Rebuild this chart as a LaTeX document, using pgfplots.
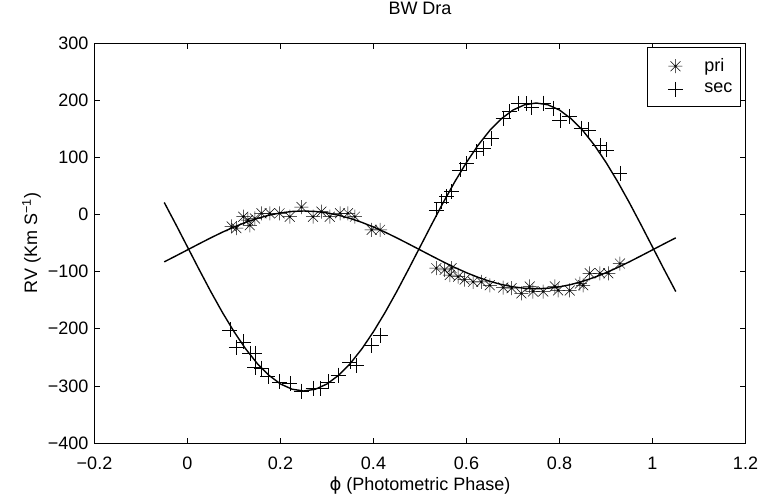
\documentclass[border=0pt]{standalone}
\usepackage{fontspec}
\setmainfont{Liberation Sans}
\newfontfamily\dejavu{DejaVu Sans}
\usepackage{pgfplots}
\pgfplotsset{compat=1.18}
\pgfdeclareplotmark{mstar}{%
 \pgfpathmoveto{\pgfqpoint{-\pgfplotmarksize}{0pt}}\pgfpathlineto{\pgfqpoint{\pgfplotmarksize}{0pt}}%
 \pgfpathmoveto{\pgfqpoint{0pt}{-\pgfplotmarksize}}\pgfpathlineto{\pgfqpoint{0pt}{\pgfplotmarksize}}%
 \pgfpathmoveto{\pgfqpoint{-.707\pgfplotmarksize}{-.707\pgfplotmarksize}}\pgfpathlineto{\pgfqpoint{.707\pgfplotmarksize}{.707\pgfplotmarksize}}%
 \pgfpathmoveto{\pgfqpoint{-.707\pgfplotmarksize}{.707\pgfplotmarksize}}\pgfpathlineto{\pgfqpoint{.707\pgfplotmarksize}{-.707\pgfplotmarksize}}%
 \pgfusepathqstroke}
\begin{document}
\fontsize{18bp}{21bp}\selectfont
\begin{tikzpicture}
\path[use as bounding box] (-94.5bp,-53bp) rectangle (668.5bp,443bp);
\begin{axis}[
  at={(0,0)}, anchor=south west,
  scale only axis, width=651bp, height=400bp,
  xmin=-0.2, xmax=1.2, ymin=-400, ymax=300,
  xtick={-0.2,0,0.2,0.4,0.6,0.8,1,1.2},
  xticklabels={−0.2,0,0.2,0.4,0.6,0.8,1,1.2},
  ytick={-400,-300,-200,-100,0,100,200,300},
  yticklabels={−400,−300,−200,−100,0,100,200,300},
  tick align=inside, major tick length=5.5bp,
  axis line style={line width=0.9bp},
  every tick/.style={line width=0.7bp, black},
  tick label style={font=\fontsize{18bp}{21bp}\selectfont},
  xticklabel style={anchor=base, yshift=-26bp},
  yticklabel style={anchor=east, inner sep=0pt, xshift=-6bp},
  label style={font=\fontsize{18bp}{21bp}\selectfont},
  title style={font=\fontsize{18bp}{21bp}\selectfont, at={(axis description cs:0.5,1)}, anchor=base, yshift=23bp},
  title={BW Dra},
  xlabel={{\dejavu ϕ} (Photometric Phase)},
  ylabel={RV (Km S\textsuperscript{−1})},
  xlabel style={at={(axis description cs:0.5,0)}, anchor=base, yshift=-47bp},
  ylabel style={at={(axis description cs:-0.0883,0.5)}, anchor=base},
  legend style={at={(0.9928,0.99)}, anchor=north east, draw=black, line width=0.7bp,
    font=\fontsize{18bp}{21bp}\selectfont, row sep=5bp, inner xsep=6bp, inner ysep=9bp,
    nodes={inner sep=2bp}},
  legend image code/.code={\path[draw=none,fill=none] (-3bp,-8bp) rectangle (46bp,8bp); \draw[mark repeat=2,mark phase=2,#1] plot coordinates {(0bp,0bp) (19bp,0bp) (38bp,0bp)};},
  legend cell align=left,
]
\addplot[only marks, mark=mstar, mark size=7bp, line width=0.5bp, black] coordinates {
(0.095,-21) (0.105,-24) (0.12,-4) (0.13,-10) (0.134,-19) (0.145,-7) (0.159,2)
(0.177,2) (0.198,2) (0.22,-4) (0.245,13) (0.27,-4) (0.288,5) (0.306,-4)
(0.328,2) (0.345,2) (0.36,-4) (0.396,-27) (0.414,-27)
(0.535,-94) (0.553,-97) (0.568,-94) (0.564,-106) (0.582,-109) (0.596,-114)
(0.614,-118) (0.632,-118) (0.65,-124) (0.679,-128) (0.697,-129) (0.718,-138)
(0.736,-126) (0.743,-135) (0.765,-135) (0.79,-126) (0.797,-133) (0.822,-133)
(0.844,-121) (0.851,-124) (0.865,-103) (0.887,-103) (0.905,-103) (0.93,-86)
};
\addlegendentry{pri}
\addplot[only marks, mark=+, mark size=7.5bp, line width=0.5bp, black] coordinates {
(0.091,-202) (0.105,-232) (0.12,-223) (0.134,-243) (0.145,-243) (0.145,-267)
(0.159,-269) (0.173,-284) (0.198,-293) (0.22,-296) (0.245,-309) (0.27,-304)
(0.285,-304) (0.302,-293) (0.324,-281) (0.349,-258) (0.363,-264) (0.396,-229)
(0.414,-211)
(0.535,8) (0.546,22) (0.557,31) (0.568,40) (0.586,78) (0.6,89) (0.621,110)
(0.636,116) (0.654,133) (0.679,168) (0.693,180) (0.711,194) (0.729,194)
(0.74,188) (0.765,195) (0.786,186) (0.801,165) (0.822,171) (0.847,151)
(0.862,148) (0.887,121) (0.901,113) (0.93,72)
};
\addlegendentry{sec}
\addplot[black, line width=1.4bp, forget plot] coordinates {
(-0.05,-83.0) (-0.025,-72.6) (0,-62) (0.025,-51.4) (0.05,-41.0) (0.075,-31.1)
(0.1,-22.0) (0.125,-13.9) (0.15,-7.0) (0.175,-1.4) (0.2,2.7) (0.225,5.2)
(0.25,6) (0.275,5.2) (0.3,2.7) (0.325,-1.4) (0.35,-7.0) (0.375,-13.9)
(0.4,-22.0) (0.425,-31.1) (0.45,-41.0) (0.475,-51.4) (0.5,-62)
(0.525,-72.6) (0.55,-83.0) (0.575,-92.9) (0.6,-102.0) (0.625,-110.1)
(0.65,-117.0) (0.675,-122.6) (0.7,-126.7) (0.725,-129.2) (0.75,-130)
(0.775,-129.2) (0.8,-126.7) (0.825,-122.6) (0.85,-117.0) (0.875,-110.1)
(0.9,-102.0) (0.925,-92.9) (0.95,-83.0) (0.975,-72.6) (1,-62)
(1.025,-51.4) (1.05,-41.0)
};
\addplot[black, line width=1.4bp, forget plot] coordinates {
(-0.05,20.9) (-0.025,-17.6) (0,-57) (0.025,-96.4) (0.05,-134.9) (0.075,-171.4)
(0.1,-205.1) (0.125,-235.2) (0.15,-260.9) (0.175,-281.5) (0.2,-296.7)
(0.225,-305.9) (0.25,-309) (0.275,-305.9) (0.3,-296.7) (0.325,-281.5)
(0.35,-260.9) (0.375,-235.2) (0.4,-205.1) (0.425,-171.4) (0.45,-134.9)
(0.475,-96.4) (0.5,-57) (0.525,-17.6) (0.55,20.9) (0.575,57.4) (0.6,91.1)
(0.625,121.2) (0.65,146.9) (0.675,167.5) (0.7,182.7) (0.725,191.9)
(0.75,195) (0.775,191.9) (0.8,182.7) (0.825,167.5) (0.85,146.9)
(0.875,121.2) (0.9,91.1) (0.925,57.4) (0.95,20.9) (0.975,-17.6) (1,-57)
(1.025,-96.4) (1.05,-134.9)
};
\end{axis}
\end{tikzpicture}
\end{document}
